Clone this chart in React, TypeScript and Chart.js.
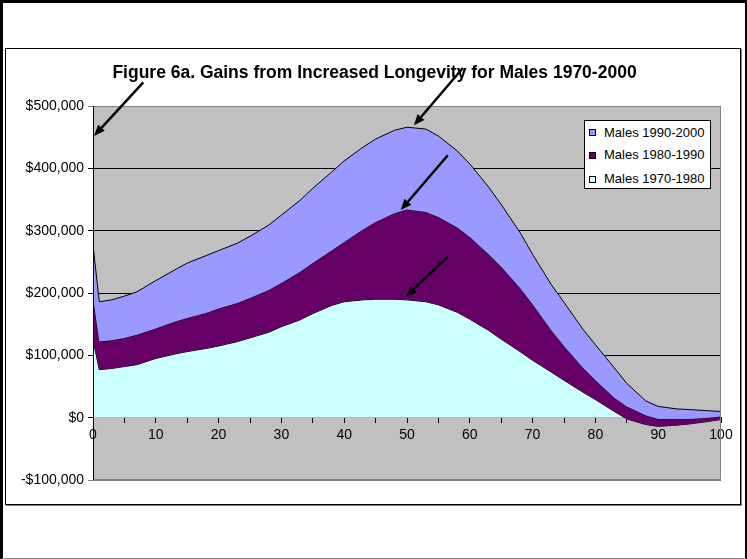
import React, { useEffect, useRef } from 'react';
import { Chart, registerables } from 'chart.js';

Chart.register(...registerables);

// ---- data (values in US$) ----
const ages = [0, 1, 3, 5, 7, 10, 13, 15, 18, 20, 23, 25, 28, 30, 33, 35, 38, 40, 43, 45, 48, 50, 53, 55, 58, 60, 63, 65, 68, 70, 73, 75, 78, 80, 83, 85, 88, 90, 93, 95, 98, 100];
const males1970_1980 = [125, 77, 79, 82, 85, 95, 102, 106, 111, 115, 122, 128, 137, 146, 157, 167, 180, 186, 189, 190, 190, 189, 186, 181, 169, 158, 140, 126, 106, 92, 73, 60, 41, 29, 10, -2, -11, -14, -12, -10, -6, -3].map((v) => v * 1000);
const males1980_1990 = [69, 45, 45, 46, 48, 48, 52, 54, 57, 60, 62, 64, 68, 70, 77, 81, 88, 96, 113, 124, 138, 145, 144, 141, 136, 132, 122, 116, 102, 90, 67, 55, 39, 31, 22, 20, 15, 12, 10, 8, 6, 5].map((v) => v * 1000);
const males1990_2000 = [83, 64, 65, 67, 69, 77, 83, 88, 92, 93, 96, 99, 104, 109, 115, 120, 126, 130, 132, 133, 133, 132, 133, 130, 123, 117, 108, 100, 89, 80, 73, 70, 62, 57, 48, 37, 23, 20, 16, 15, 11, 8].map((v) => v * 1000);

const seriesLabels = ['Males 1970-1980', 'Males 1980-1990', 'Males 1990-2000'];
const seriesColors = ['#CCFFFF', '#660066', '#9999FF'];

const titleText = 'Figure 6a. Gains from Increased Longevity for Males 1970-2000';
const yMin = -100000;
const yMax = 500000;
const yStep = 100000;
const xMin = 0;
const xMax = 100;
const xMinorStep = 5;
const xLabelStep = 10;

// arrow annotations in data coordinates: [age, dollars]
const arrowTails = [[8.0, 538000], [58.9, 561000], [56.5, 421000], [56.5, 258000]];
const arrowTips = [[0.16, 452000], [51.1, 469000], [49.0, 333000], [49.8, 194000]];

const FONT = "'Liberation Sans', Arial, sans-serif";

function fmtDollar(v: number): string {
  const abs = Math.abs(v).toLocaleString('en-US');
  return (v < 0 ? '-$' : '$') + abs;
}

export default function App() {
  const ref = useRef<HTMLCanvasElement | null>(null);

  useEffect(() => {
    const canvas = ref.current;
    if (!canvas) return;
    const series = [males1970_1980, males1980_1990, males1990_2000];
    const cum: number[][] = [];
    series.forEach((s, k) => {
      cum.push(s.map((v, i) => v + (k > 0 ? cum[k - 1][i] : 0)));
    });

    const bgPlugin = {
      id: 'plotBg',
      beforeDraw(chart: any) {
        const { ctx, chartArea: a } = chart;
        ctx.save();
        ctx.fillStyle = '#C0C0C0';
        ctx.fillRect(a.left, a.top, a.right - a.left, a.bottom - a.top);
        ctx.restore();
      },
      afterDatasetsDraw(chart: any) {
        const { ctx, chartArea: a } = chart;
        ctx.save();
        ctx.lineWidth = 1;
        ctx.strokeStyle = '#808080';
        ctx.beginPath();
        ctx.moveTo(a.left, a.top + 0.5);
        ctx.lineTo(a.right - 0.5, a.top + 0.5);
        ctx.lineTo(a.right - 0.5, a.bottom - 0.5);
        ctx.lineTo(a.left, a.bottom - 0.5);
        ctx.stroke();
        ctx.strokeStyle = '#000';
        ctx.beginPath();
        ctx.moveTo(a.left + 0.5, a.top);
        ctx.lineTo(a.left + 0.5, a.bottom);
        ctx.stroke();
        ctx.restore();
      },
    };

    const titlePlugin = {
      id: 'figTitle',
      afterDraw(chart: any) {
        const { ctx } = chart;
        ctx.save();
        ctx.fillStyle = '#000';
        ctx.font = `bold 17.5px ${FONT}`;
        ctx.textAlign = 'center';
        ctx.textBaseline = 'middle';
        ctx.fillText(titleText, 374.5, 73.5);
        ctx.restore();
      },
    };

    const arrowPlugin = {
      id: 'arrows',
      afterDraw(chart: any) {
        const { ctx } = chart;
        const xs = chart.scales.x;
        const ys = chart.scales.y;
        ctx.save();
        ctx.strokeStyle = '#000';
        ctx.fillStyle = '#000';
        ctx.lineWidth = 2.5;
        arrowTails.forEach((t, i) => {
          const tip = arrowTips[i];
          const x1 = xs.getPixelForValue(t[0]);
          const y1 = ys.getPixelForValue(t[1]);
          const x2 = xs.getPixelForValue(tip[0]);
          const y2 = ys.getPixelForValue(tip[1]);
          const ang = Math.atan2(y2 - y1, x2 - x1);
          const headLen = 11;
          const headW = 4.5;
          const bx = x2 - headLen * Math.cos(ang);
          const by = y2 - headLen * Math.sin(ang);
          ctx.beginPath();
          ctx.moveTo(x1, y1);
          ctx.lineTo(bx, by);
          ctx.stroke();
          ctx.beginPath();
          ctx.moveTo(x2, y2);
          ctx.lineTo(bx + headW * Math.sin(ang), by - headW * Math.cos(ang));
          ctx.lineTo(bx - headW * Math.sin(ang), by + headW * Math.cos(ang));
          ctx.closePath();
          ctx.fill();
        });
        ctx.restore();
      },
    };

    const chart = new Chart(canvas, {
      type: 'line',
      data: {
        datasets: cum.map((c, k) => ({
          label: seriesLabels[k],
          data: ages.map((a, i) => ({ x: a, y: c[i] })),
          backgroundColor: seriesColors[k],
          borderColor: '#000',
          borderWidth: 1,
          pointRadius: 0,
          tension: 0,
          fill: k === 0 ? 'origin' : k - 1,
          order: 3 - k,
        })),
      },
      options: {
        animation: false,
        responsive: false,
        devicePixelRatio: 1,
        layout: { padding: { left: 0, right: 26, top: 106, bottom: 79 } },
        plugins: {
          legend: { display: false },
          tooltip: { enabled: false },
          title: { display: false },
        },
        scales: {
          x: {
            type: 'linear',
            min: xMin,
            max: xMax,
            position: { y: 0 } as any,
            z: 1,
            ticks: {
              stepSize: xMinorStep,
              autoSkip: false,
              maxRotation: 0,
              color: '#000',
              font: { family: FONT, size: 14 },
              padding: 4,
              callback: (v: any) => (Number(v) % xLabelStep === 0 ? String(v) : ''),
            },
            grid: { drawOnChartArea: false, color: '#000', tickLength: 5 },
            border: { color: '#000', width: 1 },
          },
          y: {
            type: 'linear',
            min: yMin,
            max: yMax,
            ticks: {
              stepSize: yStep,
              color: '#000',
              font: { family: FONT, size: 14 },
              padding: 4,
              callback: (v: any) => fmtDollar(Number(v)),
            },
            grid: {
              color: (ctx: any) => (ctx.tick && (ctx.tick.value === yMin || ctx.tick.value === yMax) ? '#808080' : '#000'),
              tickLength: 5,
            },
            border: { display: false },
            afterFit: (s: any) => {
              s.width = 93;
            },
          },
        },
      } as any,
      plugins: [bgPlugin, arrowPlugin, titlePlugin],
    });
    return () => chart.destroy();
  }, []);

  const legendOrder = [2, 1, 0];
  const rowCenters = [11.7, 34.3, 58.3];

  return (
    <div style={{ position: 'fixed', left: 0, top: 0, width: 747, height: 559, background: '#fff', overflow: 'hidden' }}>
      <div
        style={{
          position: 'absolute', left: 0, top: 0, width: 747, height: 559, boxSizing: 'border-box',
          borderLeft: '3px solid #000', borderTop: '3px solid #000', borderRight: '2px solid #000', borderBottom: '1px solid #888',
        }}
      />
      <div
        style={{
          position: 'absolute', left: 5, top: 48, width: 736, height: 457, boxSizing: 'border-box',
          border: '1px solid #000', boxShadow: '1px 1px 0 #808080',
        }}
      />
      <canvas ref={ref} width={747} height={559} style={{ position: 'absolute', left: 0, top: 0, width: 747, height: 559 }} />
      <div
        style={{
          position: 'absolute', left: 584, top: 120, width: 127, height: 69, boxSizing: 'border-box',
          border: '1px solid #000', background: '#fff', fontFamily: FONT, fontSize: 13, color: '#000',
        }}
      >
        {legendOrder.map((k, r) => (
          <div key={k} style={{ position: 'absolute', left: 0, top: rowCenters[r] - 8, height: 16, width: 125 }}>
            <div
              style={{
                position: 'absolute', left: 4, top: 4.5, width: 7, height: 7, boxSizing: 'border-box',
                border: '1px solid #000', background: seriesColors[k],
              }}
            />
            <span style={{ position: 'absolute', left: 19, top: 0, lineHeight: '16px', whiteSpace: 'nowrap' }}>{seriesLabels[k]}</span>
          </div>
        ))}
      </div>
    </div>
  );
}
